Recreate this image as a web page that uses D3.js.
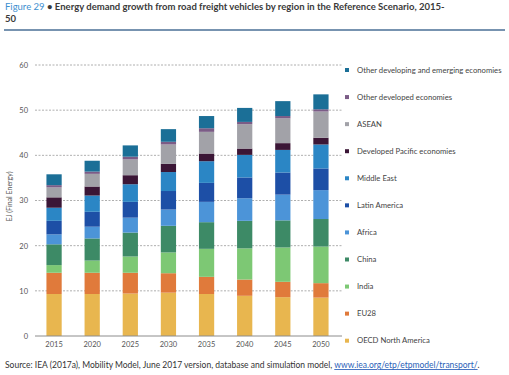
<!DOCTYPE html>
<html>
<head>
<meta charset="utf-8">
<script src="https://cdn.jsdelivr.net/npm/d3@7"></script>
<style>
  body { margin: 0; background: #fff; }
  svg { display: block; font-family: Lato, "Open Sans", sans-serif; }
</style>
</head>
<body>
<script>
// -------------------- DATA --------------------
var years = ["2015", "2020", "2025", "2030", "2035", "2040", "2045", "2050"];

// stacking order, bottom to top
var regions = [
  "OECD North America", "EU28", "India", "China", "Africa", "Latin America",
  "Middle East", "Developed Pacific economies", "ASEAN",
  "Other developed economies", "Other developing and emerging economies"
];

// EJ per region and year
var oecdNA      = [9.3, 9.3, 9.4, 9.6, 9.3, 8.9, 8.6, 8.5];
var eu28        = [4.7, 4.7, 4.6, 4.3, 3.8, 3.6, 3.4, 3.2];
var india       = [1.7, 2.7, 3.6, 4.6, 6.2, 6.9, 7.6, 8.1];
var china       = [4.6, 4.9, 5.3, 5.9, 5.9, 6.1, 6.0, 6.1];
var africa      = [2.2, 2.6, 3.3, 3.6, 4.5, 5.0, 5.7, 6.4];
var latinAm     = [3.0, 3.3, 3.5, 4.1, 4.2, 4.6, 4.9, 4.8];
var middleEast  = [2.9, 3.6, 3.9, 4.2, 4.8, 5.0, 5.0, 5.3];
var devPacific  = [2.3, 2.0, 2.0, 1.8, 1.7, 1.4, 1.5, 1.5];
var asean       = [2.2, 2.8, 3.5, 4.3, 4.8, 5.4, 5.5, 5.8];
var otherDevd   = [0.5, 0.5, 0.6, 0.6, 0.8, 0.5, 0.5, 0.5];
var otherDevg   = [2.4, 2.4, 2.5, 2.8, 2.7, 3.1, 3.3, 3.3];

var yTicks = [0, 10, 20, 30, 40, 50, 60];

var colors = ["#e8b64f", "#e07a3b", "#7dc874", "#3d8a66", "#4c94d8", "#1d4fa6",
              "#2b86c5", "#3b1636", "#a2a2a8", "#7b5c86", "#1b6f97"];

// one row per year for d3.stack
var series = [oecdNA, eu28, india, china, africa, latinAm, middleEast,
              devPacific, asean, otherDevd, otherDevg];
var table = years.map(function(y, i) {
  var row = { year: y };
  regions.forEach(function(r, k) { row[r] = series[k][i]; });
  return row;
});

// -------------------- DIMENSIONS --------------------
var w = 509, h = 375;
var plot = { left: 35, right: 340, top: 65, bottom: 336 };

var svg = d3.select("body").append("svg")
  .attr("width", w)
  .attr("height", h);

// -------------------- TITLE --------------------
var title = svg.append("text")
  .attr("x", 5).attr("y", 10)
  .attr("font-size", "9.5px")
  .attr("font-weight", "bold")
  .attr("fill", "#3a3a3a");
title.append("tspan").attr("fill", "#3d8fd0").attr("font-weight", "normal").text("Figure 29 ");
title.append("tspan").text("\u2022 Energy demand growth from road freight vehicles by region in the Reference Scenario, 2015-");
svg.append("text")
  .attr("x", 5).attr("y", 22)
  .attr("font-size", "9.5px")
  .attr("font-weight", "bold")
  .attr("fill", "#3a3a3a")
  .text("50");

svg.append("line")
  .attr("x1", 4).attr("x2", 505)
  .attr("y1", 30).attr("y2", 30)
  .attr("stroke", "#4a6f96")
  .attr("stroke-width", 1.5);

// -------------------- SCALES --------------------
var x = d3.scaleBand()
  .domain(years)
  .range([plot.left, plot.right])
  .paddingInner(0.6)
  .paddingOuter(0.3);

var y = d3.scaleLinear()
  .domain([0, 60])
  .range([plot.bottom, plot.top]);

var color = d3.scaleOrdinal().domain(regions).range(colors);

// -------------------- GRID --------------------
svg.append("g")
  .selectAll("line")
  .data(yTicks.filter(function(d) { return d > 0; }))
  .enter().append("line")
  .attr("x1", plot.left).attr("x2", plot.right + 2)
  .attr("y1", function(d) { return y(d); })
  .attr("y2", function(d) { return y(d); })
  .attr("stroke", "#9a9a9a")
  .attr("stroke-width", 0.8)
  .attr("stroke-dasharray", "2,1.5");

// -------------------- BARS --------------------
var stacked = d3.stack().keys(regions)(table);

svg.append("g")
  .selectAll("g")
  .data(stacked)
  .enter().append("g")
  .attr("fill", function(d) { return color(d.key); })
  .selectAll("rect")
  .data(function(d) { return d; })
  .enter().append("rect")
  .attr("x", function(d) { return x(d.data.year); })
  .attr("width", x.bandwidth())
  .attr("y", function(d) { return y(d[1]); })
  .attr("height", function(d) { return y(d[0]) - y(d[1]); });

// baseline
svg.append("line")
  .attr("x1", plot.left).attr("x2", plot.right + 2)
  .attr("y1", y(0)).attr("y2", y(0))
  .attr("stroke", "#8c8c8c")
  .attr("stroke-width", 1);

// -------------------- AXES --------------------
var yAxis = svg.append("g")
  .attr("transform", "translate(" + (plot.left - 7) + ",0)")
  .call(d3.axisLeft(y).tickValues(yTicks).tickSize(0).tickPadding(0));
yAxis.select(".domain").remove();
yAxis.selectAll("text")
  .attr("font-size", "7.5px")
  .attr("fill", "#555")
  .attr("font-family", "Lato, sans-serif");

var xAxis = svg.append("g")
  .attr("transform", "translate(0," + (plot.bottom + 6) + ")")
  .call(d3.axisBottom(x).tickSize(0).tickPadding(0));
xAxis.select(".domain").remove();
xAxis.selectAll("text")
  .attr("font-size", "7.5px")
  .attr("fill", "#555")
  .attr("font-family", "Lato, sans-serif");

svg.append("text")
  .attr("transform", "translate(12," + ((plot.top + plot.bottom) / 2 - 4) + ") rotate(-90)")
  .attr("text-anchor", "middle")
  .attr("font-size", "7px")
  .attr("fill", "#555")
  .text("EJ (Final Energy)");

// -------------------- LEGEND --------------------
var legendOrder = regions.slice().reverse();
var legend = svg.append("g")
  .selectAll("g")
  .data(legendOrder)
  .enter().append("g")
  .attr("transform", function(d, i) { return "translate(345," + (70 + i * 27.07) + ")"; });

legend.append("rect")
  .attr("x", 0).attr("y", -2)
  .attr("width", 4).attr("height", 4)
  .attr("fill", function(d) { return color(d); });

legend.append("text")
  .attr("x", 12).attr("y", 2.5)
  .attr("font-size", "7.7px")
  .attr("fill", "#444")
  .text(function(d) { return d; });

// -------------------- SOURCE --------------------
var src = svg.append("text")
  .attr("x", 5).attr("y", 368)
  .attr("font-size", "8.5px")
  .attr("fill", "#333");
src.append("tspan").text("Source: IEA (2017a), Mobility Model, June 2017 version, database and simulation model, ");
src.append("tspan")
  .attr("fill", "#2b5fb8")
  .attr("text-decoration", "underline")
  .text("www.iea.org/etp/etpmodel/transport/");
src.append("tspan").text(".");
</script>
</body>
</html>
